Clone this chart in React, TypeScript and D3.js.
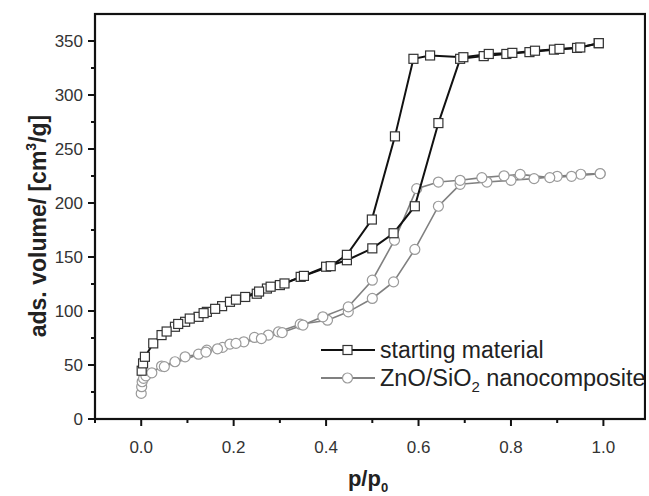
import React from 'react';
import * as d3 from 'd3';

// starting material (squares) – adsorption and desorption branches
const startAdsP = [0.001, 0.004, 0.008, 0.026, 0.044, 0.073, 0.095, 0.124, 0.142, 0.175, 0.192, 0.225, 0.25, 0.272, 0.3, 0.345, 0.4, 0.445, 0.5, 0.546, 0.592, 0.643, 0.69, 0.741, 0.79, 0.84, 0.893, 0.943, 0.99];
const startAdsV = [44.7, 51.5, 57.6, 70, 77.7, 85.4, 90, 94.6, 99.2, 104.5, 108.5, 113, 116, 120.8, 124, 131.6, 141, 147, 158, 172, 197, 274, 333.5, 336, 338, 339.7, 342, 343.6, 348];
const startDesP = [0.99, 0.95, 0.905, 0.852, 0.803, 0.752, 0.697, 0.625, 0.589, 0.549, 0.499, 0.445, 0.41, 0.352, 0.31, 0.28, 0.255, 0.205, 0.16, 0.135, 0.105, 0.08, 0.055];
const startDesV = [348, 344, 342.7, 341, 339, 338, 335, 336.6, 333.5, 261.7, 184.7, 152, 141.5, 132.5, 125.5, 122.5, 118, 110.5, 102, 98, 93, 88, 81];

// ZnO/SiO2 nanocomposite (circles)
const znoAdsP = [0.0, 0.001, 0.002, 0.005, 0.01, 0.023, 0.044, 0.073, 0.095, 0.124, 0.142, 0.176, 0.192, 0.222, 0.245, 0.275, 0.297, 0.344, 0.403, 0.448, 0.5, 0.546, 0.592, 0.643, 0.69, 0.748, 0.8, 0.85, 0.9, 0.951, 0.993];
const znoAdsV = [23.7, 29.9, 34.5, 37.6, 40, 42.8, 49, 53, 57.6, 60, 63.8, 66.3, 69.4, 71.5, 75.5, 77.7, 80.7, 87.8, 91.5, 99.2, 111.6, 127, 157, 197, 217.3, 219.4, 221, 222.6, 224.7, 226.6, 227.2];
const znoDesP = [0.993, 0.931, 0.884, 0.82, 0.785, 0.737, 0.69, 0.643, 0.596, 0.548, 0.5, 0.448, 0.393, 0.35, 0.305, 0.26, 0.205, 0.165, 0.14, 0.05];
const znoDesV = [227.2, 224.7, 223.5, 226.5, 225.2, 223.5, 221, 219.4, 213.3, 165.5, 128.5, 103.8, 94.6, 87, 80, 74.5, 70, 65, 62, 48.5];

const xMajor = [0, 0.2, 0.4, 0.6, 0.8, 1.0];
const xMinor = [-0.1, 0.1, 0.3, 0.5, 0.7, 0.9];
const yMajor = [0, 50, 100, 150, 200, 250, 300, 350];
const yMinor = [25, 75, 125, 175, 225, 275, 325];

const W = 649;
const H = 496;
const font = '"Liberation Sans", Arial, sans-serif';

const x = d3.scaleLinear().domain([-0.1, 1.09]).range([95, 645]);
const y = d3.scaleLinear().domain([0, 375]).range([419, 14]);

const zip = (ps: number[], vs: number[]) => ps.map((p, i) => [p, vs[i]] as [number, number]);
const line = d3.line<[number, number]>().x(d => x(d[0])).y(d => y(d[1]));

const Series = ({ branches, kind, color, lineColor, lw }: any) => (
  <g>
    {branches.map((b: [number, number][], i: number) => (
      <path key={'l' + i} d={line(b) || ''} fill="none" stroke={lineColor} strokeWidth={lw} />
    ))}
    {branches.map((b: [number, number][], i: number) =>
      b.map((d, j) =>
        kind === 'square' ? (
          <rect key={i + '-' + j} x={x(d[0]) - 4.5} y={y(d[1]) - 4.5} width={9} height={9} fill="white" stroke={color} strokeWidth={1.2} />
        ) : (
          <circle key={i + '-' + j} cx={x(d[0])} cy={y(d[1])} r={5} fill="white" stroke={color} strokeWidth={1.2} />
        )
      )
    )}
  </g>
);

export default function App() {
  const start = [zip(startAdsP, startAdsV), zip(startDesP, startDesV)];
  const zno = [zip(znoAdsP, znoAdsV), zip(znoDesP, znoDesV)];
  return (
    <svg width={W} height={H} style={{ position: 'fixed', left: 0, top: 0, background: 'white' }}>
      <Series branches={zno} kind="circle" color="#9a9a9a" lineColor="#808080" lw={1.6} />
      <Series branches={start} kind="square" color="#333" lineColor="#111" lw={2} />

      {/* legend */}
      <line x1={321} x2={375} y1={350} y2={350} stroke="#111" strokeWidth={2.2} />
      <rect x={343} y={345.5} width={9} height={9} fill="white" stroke="#333" strokeWidth={1.2} />
      <text x={380} y={358} fontFamily={font} fontSize={23} fill="#222">starting material</text>
      <line x1={321} x2={375} y1={378} y2={378} stroke="#808080" strokeWidth={1.8} />
      <circle cx={347.5} cy={378} r={5} fill="white" stroke="#9a9a9a" strokeWidth={1.2} />
      <text x={380} y={386} fontFamily={font} fontSize={23.5} fill="#222">
        ZnO/SiO<tspan fontSize={15} dy={6}>2</tspan><tspan dy={-6}> nanocomposite</tspan>
      </text>

      {/* frame */}
      <rect x={95} y={14} width={550} height={405} fill="none" stroke="#111" strokeWidth={2.2} />
      <rect x={646} y={0} width={3} height={H} fill="white" />

      {/* x ticks */}
      {xMajor.map(t => (
        <g key={'xm' + t}>
          <line x1={x(t)} x2={x(t)} y1={419} y2={426} stroke="#111" strokeWidth={2} />
          <text x={x(t)} y={453} textAnchor="middle" fontFamily={font} fontSize={17} fill="#333">{d3.format('.1f')(t)}</text>
        </g>
      ))}
      {xMinor.map(t => (
        <line key={'xn' + t} x1={x(t)} x2={x(t)} y1={419} y2={423} stroke="#111" strokeWidth={2} />
      ))}

      {/* y ticks */}
      {yMajor.map(t => (
        <g key={'ym' + t}>
          <line x1={88} x2={95} y1={y(t)} y2={y(t)} stroke="#111" strokeWidth={2} />
          <text x={83} y={y(t) + 6} textAnchor="end" fontFamily={font} fontSize={17} fill="#333">{t}</text>
        </g>
      ))}
      {yMinor.map(t => (
        <line key={'yn' + t} x1={91} x2={95} y1={y(t)} y2={y(t)} stroke="#111" strokeWidth={2} />
      ))}

      {/* axis titles */}
      <text transform="translate(46,226) rotate(-90)" textAnchor="middle" fontFamily={font} fontSize={23} fontWeight="bold" fill="#222">
        ads. volume/ [cm<tspan fontSize={14} dy={-10}>3</tspan><tspan dy={10}>/g]</tspan>
      </text>
      <text x={368} y={486} textAnchor="middle" fontFamily={font} fontSize={22} fontWeight="bold" fill="#222">
        p/p<tspan fontSize={13} dy={6}>0</tspan>
      </text>
    </svg>
  );
}
